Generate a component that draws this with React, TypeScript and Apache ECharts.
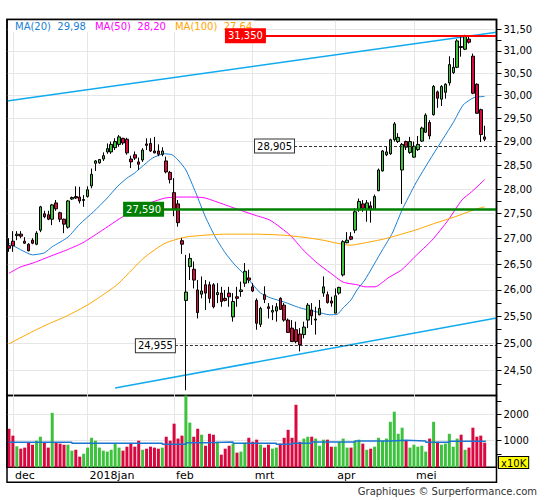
import React, { useEffect, useRef } from 'react';
import * as echarts from 'echarts';

// ---- trading days (categories) ----
const DAYS_2017_11 = [30];
const DAYS_2017_12 = [1, 4, 5, 6, 7, 8, 11, 12, 13, 14, 15, 18, 19, 20, 21, 22, 27, 28, 29];
const DAYS_2018_01 = [2, 3, 4, 5, 8, 9, 10, 11, 12, 15, 16, 17, 18, 19, 22, 23, 24, 25, 26, 29, 30, 31];
const DAYS_2018_02 = [1, 2, 5, 6, 7, 8, 9, 12, 13, 14, 15, 16, 19, 20, 21, 22, 23, 26, 27, 28];
const DAYS_2018_03 = [1, 2, 5, 6, 7, 8, 9, 12, 13, 14, 15, 16, 19, 20, 21, 22, 23, 26, 27, 28, 29];
const DAYS_2018_04 = [3, 4, 5, 6, 9, 10, 11, 12, 13, 16, 17, 18, 19, 20, 23, 24, 25, 26, 27, 30];
const DAYS_2018_05 = [2, 3, 4, 7, 8, 9, 10, 11, 14, 15, 16, 17, 18, 21, 22, 23, 24, 25, 28];
const MONTH_NAMES = ['jan', 'feb', 'mrt', 'apr', 'mei', 'jun', 'jul', 'aug', 'sep', 'okt', 'nov', 'dec'];

// ---- daily OHLC ----
const OPEN = [26.86, 26.95, 27.06, 27.09, 26.95, 26.89, 26.97, 26.89, 27.17, 27.50, 27.48, 27.39, 27.72, 27.52, 27.39, 27.23, 27.80, 27.85, 27.84, 27.77, 27.85, 28.07, 28.54, 28.55, 28.63, 28.78, 28.78, 28.87, 28.94, 29.07, 29.05, 28.63, 28.72, 28.57, 28.61, 28.95, 28.96, 28.80, 28.80, 28.73, 28.59, 28.35, 27.93, 27.70, 26.96, 25.80, 26.45, 26.40, 26.00, 25.92, 26.10, 26.10, 26.10, 25.91, 25.94, 25.84, 25.94, 25.49, 25.87, 25.97, 26.13, 26.23, 26.06, 25.80, 25.35, 25.91, 25.68, 25.58, 25.60, 25.84, 25.71, 25.43, 25.28, 25.25, 25.17, 25.16, 25.43, 25.62, 25.43, 25.53, 25.94, 25.91, 25.79, 25.56, 25.94, 26.29, 26.92, 27.04, 27.17, 27.58, 27.70, 27.59, 27.66, 27.59, 27.97, 28.38, 28.72, 28.74, 29.04, 29.00, 28.40, 29.00, 28.77, 28.67, 28.83, 29.01, 29.20, 29.41, 29.58, 30.08, 29.92, 30.07, 30.28, 30.51, 30.63, 31.10, 31.04, 31.27, 30.88, 30.25, 29.69, 29.10];
const CLOSE = [26.81, 26.86, 27.09, 27.05, 26.91, 26.76, 26.91, 27.11, 27.64, 27.44, 27.39, 27.68, 27.60, 27.39, 27.29, 27.76, 27.83, 27.82, 27.76, 27.79, 27.99, 28.31, 28.59, 28.62, 28.70, 28.85, 28.94, 29.00, 29.10, 28.97, 28.76, 28.57, 28.65, 28.52, 28.82, 28.92, 28.80, 28.76, 28.73, 28.80, 28.36, 28.20, 27.59, 27.32, 26.89, 25.96, 26.61, 26.19, 25.57, 25.98, 25.94, 25.84, 25.68, 25.95, 25.78, 25.80, 25.87, 25.78, 25.84, 26.00, 26.36, 26.19, 25.98, 25.37, 25.65, 25.82, 25.65, 25.61, 25.68, 25.63, 25.43, 25.20, 25.03, 25.03, 24.97, 25.30, 25.71, 25.51, 25.45, 25.65, 26.06, 25.76, 25.75, 25.89, 26.05, 26.94, 26.97, 26.99, 27.54, 27.75, 27.61, 27.72, 27.58, 27.85, 28.40, 28.80, 28.78, 29.04, 29.38, 29.09, 28.94, 28.88, 29.00, 28.90, 28.94, 29.29, 29.57, 29.12, 30.20, 29.94, 30.20, 30.25, 30.69, 30.63, 31.23, 31.08, 31.33, 31.20, 30.05, 29.61, 29.15, 29.05];
const LOW = [26.74, 26.74, 26.97, 27.01, 26.90, 26.75, 26.89, 26.87, 27.13, 27.41, 27.37, 27.27, 27.56, 27.33, 27.11, 27.20, 27.78, 27.80, 27.71, 27.64, 27.83, 28.02, 28.38, 28.53, 28.59, 28.74, 28.74, 28.82, 28.89, 28.93, 28.72, 28.44, 28.61, 28.40, 28.57, 28.82, 28.78, 28.75, 28.69, 28.69, 28.33, 28.12, 27.45, 27.24, 26.70, 24.15, 26.19, 26.03, 25.46, 25.84, 25.62, 25.75, 25.65, 25.75, 25.68, 25.78, 25.68, 25.40, 25.68, 25.87, 26.06, 26.13, 25.96, 25.25, 25.30, 25.75, 25.46, 25.43, 25.40, 25.62, 25.40, 25.19, 25.03, 25.00, 24.85, 25.09, 25.28, 25.34, 25.16, 25.52, 25.87, 25.74, 25.68, 25.56, 25.91, 26.26, 26.91, 26.97, 27.11, 27.54, 27.54, 27.34, 27.32, 27.58, 27.96, 28.37, 28.69, 28.72, 29.00, 28.97, 27.70, 28.82, 28.74, 28.66, 28.80, 28.99, 29.19, 29.05, 29.56, 29.73, 29.77, 29.93, 30.22, 30.48, 30.61, 30.87, 31.02, 31.17, 30.03, 29.60, 28.99, 29.01];
const HIGH = [27.01, 27.15, 27.15, 27.15, 27.03, 26.91, 27.01, 27.15, 27.66, 27.56, 27.56, 27.70, 27.78, 27.54, 27.40, 27.78, 27.85, 28.06, 28.05, 27.88, 28.06, 28.43, 28.61, 28.63, 28.77, 28.96, 29.00, 29.07, 29.14, 29.08, 29.08, 28.70, 28.79, 28.66, 28.86, 29.07, 29.07, 29.10, 28.94, 28.88, 28.68, 28.38, 28.23, 27.78, 27.01, 26.68, 26.71, 26.55, 26.19, 26.26, 26.19, 26.16, 26.13, 26.13, 26.06, 26.00, 26.06, 25.94, 26.06, 26.16, 26.52, 26.39, 26.13, 25.84, 25.68, 26.07, 25.75, 25.71, 25.75, 25.86, 25.75, 25.46, 25.43, 25.40, 25.28, 25.40, 25.75, 25.75, 25.68, 25.81, 26.26, 25.97, 25.87, 26.03, 26.06, 26.97, 27.13, 27.13, 27.61, 27.81, 27.78, 27.78, 27.75, 27.89, 28.43, 28.82, 28.90, 29.06, 29.42, 29.18, 28.97, 29.02, 29.10, 29.00, 29.12, 29.32, 29.61, 29.46, 30.23, 30.11, 30.23, 30.27, 30.88, 30.84, 31.27, 31.33, 31.37, 31.33, 30.94, 30.27, 29.71, 29.34];

// ---- volume (x10K) ----
const VOLUME = [1450, 1190, 790, 700, 740, 940, 850, 1000, 1150, 940, 740, 2050, 940, 890, 850, 850, 625, 660, 400, 510, 740, 1110, 1000, 740, 625, 590, 660, 890, 740, 625, 775, 890, 775, 1000, 660, 700, 775, 740, 700, 740, 1150, 1000, 1640, 1080, 1190, 2700, 1680, 1150, 1450, 1225, 810, 1260, 1225, 960, 475, 700, 810, 890, 550, 590, 925, 1110, 960, 1040, 850, 740, 850, 700, 740, 890, 1110, 1410, 1110, 2350, 960, 1080, 1150, 1150, 1080, 810, 1040, 1040, 775, 775, 960, 1080, 740, 740, 1000, 1040, 890, 660, 700, 775, 1110, 1000, 1080, 1710, 2090, 1260, 1490, 1000, 740, 850, 775, 810, 590, 1080, 1710, 960, 850, 890, 1260, 775, 1080, 1225, 660, 740, 1490, 1150, 1190, 925];
const VOLUME_MA = [[0, 940], [16, 900], [39, 865], [45, 925], [50, 950], [57, 900], [68, 865], [72, 900], [77, 950], [88, 990], [97, 1015], [101, 990], [106, 940], [112, 975], [121.3, 975]];

// ---- moving averages [day index, price] ----
const MA20 = [[0, 26.91], [3, 26.78], [6, 26.68], [9, 26.72], [11, 26.84], [15, 27.03], [18, 27.29], [21.5, 27.54], [25, 27.82], [27.5, 28.05], [30, 28.23], [32, 28.34], [36.5, 28.65], [39.5, 28.74], [41.5, 28.72], [43, 28.61], [45, 28.40], [47.5, 27.93], [50, 27.43], [52.5, 27.03], [55, 26.72], [57.5, 26.48], [60, 26.29], [62.5, 26.06], [64, 25.94], [66.5, 25.85], [70, 25.77], [74, 25.66], [78.5, 25.58], [81.5, 25.53], [83.5, 25.54], [85, 25.66], [87, 25.81], [88.5, 26.00], [90.5, 26.19], [95, 26.78], [97.5, 27.11], [100, 27.58], [103.5, 28.13], [107, 28.61], [113, 29.41], [115.5, 29.79], [117.5, 29.92], [118.5, 29.96], [121, 29.98]];
const MA50 = [[0, 26.32], [2.8, 26.44], [6.1, 26.52], [10.4, 26.65], [14.8, 26.78], [18.8, 26.92], [23.2, 27.14], [29.5, 27.47], [34.6, 27.68], [39.7, 27.82], [43.5, 27.84], [47.3, 27.84], [49.9, 27.82], [55, 27.68], [60, 27.54], [62.6, 27.47], [66.4, 27.37], [71.5, 27.07], [74.8, 26.78], [78.4, 26.52], [81.7, 26.33], [85, 26.15], [88.5, 26.10], [90.6, 26.06], [93.1, 26.06], [96.4, 26.23], [99.9, 26.39], [103.3, 26.65], [107.6, 26.97], [111.7, 27.37], [115.2, 27.78], [117.7, 27.95], [121, 28.20]];
const MA100 = [[0, 24.99], [6.1, 25.22], [10.4, 25.37], [14.8, 25.51], [20.1, 25.72], [23.2, 25.87], [27.5, 26.10], [29.5, 26.25], [34.6, 26.64], [39.7, 26.91], [44.8, 27.03], [49.9, 27.07], [55, 27.09], [62.6, 27.09], [69.7, 27.07], [74.8, 27.03], [79.9, 26.97], [83.5, 26.91], [86.8, 26.87], [90.1, 26.91], [95.7, 27.00], [103.3, 27.17], [108.4, 27.31], [113.5, 27.44], [118.6, 27.59], [121, 27.64]];

// ---- trend channel lines ----
const TREND_UPPER = [[-0.5, 29.88], [124, 31.43]];
const TREND_LOWER = [[27, 24.19], [124, 25.47]];

// ---- horizontal levels ----
const LEVEL_VALUES = [31.35, 28.905, 27.59, 24.955];
const LEVEL_START = [65.1, 72.5, 39.2, 42.2];

// ---- axis ticks ----
const PRICE_LABELS = [24.5, 25, 25.5, 26, 26.5, 27, 27.5, 28, 28.5, 29, 29.5, 30, 30.5, 31, 31.5];
const PRICE_MINOR = [24.25, 24.5, 24.75, 25, 25.25, 25.5, 25.75, 26, 26.25, 26.5, 26.75, 27, 27.25, 27.5, 27.75, 28, 28.25, 28.5, 28.75, 29, 29.25, 29.5, 29.75, 30, 30.25, 30.5, 30.75, 31, 31.25, 31.5];
const VOL_LABELS = [1000, 2000];
const VOL_MINOR = [500, 1000, 1500, 2000, 2500];
const PRICE_MIN = 24.057;
const PRICE_MAX = 31.726;
const VOL_MAX = 2700;
const X_MIN = -0.5;
const X_MAX = 124;

const UP = '#3cc23c';
const DOWN = '#d9083f';
const C_MA20 = '#1a7fd4';
const C_MA50 = '#ff00ff';
const C_MA100 = '#ffa500';
const C_TREND = '#11aaee';
const GRID_C = '#e6e6e6';
const FONT = 'DejaVu Sans';

function buildDates() {
  const parts: [number, number, number[]][] = [
    [2017, 11, DAYS_2017_11], [2017, 12, DAYS_2017_12], [2018, 1, DAYS_2018_01],
    [2018, 2, DAYS_2018_02], [2018, 3, DAYS_2018_03], [2018, 4, DAYS_2018_04], [2018, 5, DAYS_2018_05],
  ];
  const out: { y: number; m: number; d: number }[] = [];
  parts.forEach(([y, m, days]) => days.forEach((d) => out.push({ y, m, d })));
  return out;
}

const comma = (v: number, d: number) => v.toFixed(d).replace('.', ',');

export default function App() {
  const ref = useRef<HTMLDivElement>(null);
  useEffect(() => {
    if (!ref.current) return;
    const chart = echarts.init(ref.current, null, { renderer: 'svg' });
    const ln = Math.log;
    const dates = buildDates();
    const monthIdx: number[] = [];
    const monthLbl: Record<number, string> = {};
    dates.forEach((dt, i) => {
      if (i > 0 && dt.m !== dates[i - 1].m) {
        monthIdx.push(i);
        monthLbl[i] = (dt.m === 1 ? String(dt.y) : '') + MONTH_NAMES[dt.m - 1];
      }
    });

    const candleData = OPEN.map((o, i) => [i, ln(o), ln(CLOSE[i]), ln(LOW[i]), ln(HIGH[i])]);
    const volData = VOLUME.map((v, i) => ({ value: [i, v], itemStyle: { color: CLOSE[i] >= OPEN[i] ? UP : DOWN } }));
    const toLn = (arr: number[][]) => arr.map(([i, p]) => [i, ln(p)]);

    const levelStyles = [
      { line: { color: '#ff0000', width: 2, type: 'solid' }, label: { color: '#fff', backgroundColor: '#ff0000', borderColor: '#ff0000' } },
      { line: { color: '#333', width: 1, type: [3, 2] }, label: { color: '#000', backgroundColor: '#fff', borderColor: '#333' } },
      { line: { color: '#008000', width: 2.5, type: 'solid' }, label: { color: '#fff', backgroundColor: '#008000', borderColor: '#008000' } },
      { line: { color: '#333', width: 1, type: [3, 2] }, label: { color: '#000', backgroundColor: '#fff', borderColor: '#333' } },
    ];
    const markData = LEVEL_VALUES.map((v, k) => [
      {
        coord: [LEVEL_START[k], ln(v)],
        lineStyle: levelStyles[k].line,
        label: {
          show: true, position: 'start', distance: 0, formatter: comma(v, 3),
          fontSize: 10, fontFamily: FONT, padding: [2, 2, 1, 2], borderWidth: 1,
          ...levelStyles[k].label,
        },
      },
      { coord: [X_MAX, ln(v)] },
    ]);

    const maSeries = [
      { name: 'MA(20)', data: MA20, color: C_MA20 },
      { name: 'MA(50)', data: MA50, color: C_MA50 },
      { name: 'MA(100)', data: MA100, color: C_MA100 },
    ];
    const lastVal: Record<string, number> = {};
    maSeries.forEach((m) => { lastVal[m.name] = m.data[m.data.length - 1][1]; });

    const option: any = {
      animation: false,
      backgroundColor: '#ffffff',
      textStyle: { fontFamily: FONT },
      legend: {
        left: 8, top: 20, icon: 'rect', itemWidth: 0, itemHeight: 0, itemGap: 4,
        selectedMode: false, padding: [1, 2], backgroundColor: '#ffffff',
        data: maSeries.map((m) => ({ name: m.name, textStyle: { color: m.color } })),
        formatter: (name: string) => `${name}  ${comma(lastVal[name], 2)}`,
        textStyle: { fontSize: 10, fontFamily: FONT },
      },
      grid: [
        { left: 7, right: 48.5, top: 19.5, height: 376, show: true, borderColor: '#000', borderWidth: 1.5 },
        { left: 7, right: 48.5, top: 395.5, height: 71.8, show: true, borderColor: '#000', borderWidth: 1.5 },
      ],
      xAxis: [
        {
          type: 'value', gridIndex: 0, min: X_MIN, max: X_MAX,
          axisLine: { show: false }, axisLabel: { show: false },
          axisTick: { show: false, customValues: monthIdx },
          splitLine: { show: true, lineStyle: { color: GRID_C, width: 1 } },
        },
        {
          type: 'value', gridIndex: 1, min: X_MIN, max: X_MAX,
          axisLine: { show: false },
          axisTick: { show: false, customValues: monthIdx },
          axisLabel: {
            customValues: monthIdx, formatter: (v: number) => monthLbl[Math.round(v)] || '',
            align: 'left', padding: [0, 0, 0, 2], margin: 3, fontSize: 11, color: '#000', fontFamily: FONT,
          },
          splitLine: { show: true, lineStyle: { color: GRID_C, width: 1 } },
        },
      ],
      yAxis: [
        {
          type: 'value', gridIndex: 0, position: 'right', min: ln(PRICE_MIN), max: ln(PRICE_MAX),
          axisLine: { show: false },
          axisTick: { show: false, customValues: PRICE_LABELS.map(ln) },
          axisLabel: {
            customValues: PRICE_LABELS.map(ln), formatter: (v: number) => comma(Math.exp(v), 2),
            margin: 7, fontSize: 10, color: '#000', fontFamily: FONT,
          },
          splitLine: { show: true, lineStyle: { color: GRID_C, width: 1 } },
        },
        {
          type: 'value', gridIndex: 0, position: 'right', min: ln(PRICE_MIN), max: ln(PRICE_MAX),
          axisLine: { show: false }, axisLabel: { show: false }, splitLine: { show: false },
          axisTick: { show: true, length: 5, customValues: PRICE_MINOR.map(ln), lineStyle: { color: '#000' } },
        },
        {
          type: 'value', gridIndex: 1, position: 'right', min: 0, max: VOL_MAX,
          axisLine: { show: false },
          axisTick: { show: false, customValues: VOL_LABELS },
          axisLabel: {
            customValues: VOL_LABELS, formatter: (v: number) => String(Math.round(v)),
            margin: 7, fontSize: 10, color: '#000', fontFamily: FONT,
          },
          splitLine: { show: true, lineStyle: { color: GRID_C, width: 1 } },
        },
        {
          type: 'value', gridIndex: 1, position: 'right', min: 0, max: VOL_MAX,
          axisLine: { show: false }, axisLabel: { show: false }, splitLine: { show: false },
          axisTick: { show: true, length: 5, customValues: VOL_MINOR, lineStyle: { color: '#000' } },
        },
      ],
      series: [
        {
          type: 'line', name: 'trend-up', xAxisIndex: 0, yAxisIndex: 0, data: toLn(TREND_UPPER),
          symbol: 'none', silent: true, lineStyle: { color: C_TREND, width: 1.5 }, z: 1,
        },
        {
          type: 'line', name: 'trend-low', xAxisIndex: 0, yAxisIndex: 0, data: toLn(TREND_LOWER),
          symbol: 'none', silent: true, lineStyle: { color: C_TREND, width: 1.5 }, z: 1,
        },
        ...maSeries.map((m) => ({
          type: 'line', name: m.name, xAxisIndex: 0, yAxisIndex: 0, data: toLn(m.data),
          symbol: 'none', smooth: 0.2, silent: true, color: m.color, lineStyle: { color: m.color, width: 1 }, z: 2,
        })),
        {
          type: 'candlestick', name: 'koers', xAxisIndex: 0, yAxisIndex: 0, data: candleData,
          encode: { x: 0, y: [1, 2, 3, 4] }, barWidth: 3, z: 3,
          itemStyle: { color: UP, color0: DOWN, borderColor: '#000', borderColor0: '#000', borderWidth: 1 },
          markLine: { symbol: ['none', 'none'], silent: true, animation: false, data: markData, z: 4 },
        },
        {
          type: 'bar', name: 'volume', xAxisIndex: 1, yAxisIndex: 2, data: volData, barWidth: 3,
        },
        {
          type: 'line', name: 'volume-ma', xAxisIndex: 1, yAxisIndex: 2, data: VOLUME_MA, step: 'end',
          symbol: 'none', silent: true, lineStyle: { color: '#1a75cf', width: 1.5 }, z: 3,
        },
      ],
      graphic: [
        {
          type: 'rect', z: 100, silent: true,
          shape: { x: 7, y: 19.5, width: 489.5, height: 462.8 },
          style: { fill: 'none', stroke: '#000', lineWidth: 1.5 },
        },
        {
          type: 'text', z: 100, x: 499, y: 457,
          style: {
            text: 'x10K', fill: '#000', font: `10px '${FONT}'`, backgroundColor: '#ffff00',
            borderColor: '#000', borderWidth: 1, padding: [1, 2, 0, 2],
          },
        },
        {
          type: 'text', z: 100, x: 537, y: 491,
          style: { text: 'Graphiques © Surperformance.com', fill: '#333', font: `10px '${FONT}'`, textAlign: 'right', textVerticalAlign: 'middle' },
        },
      ],
    };
    chart.setOption(option);
    return () => chart.dispose();
  }, []);
  return <div ref={ref} style={{ position: 'fixed', left: 0, top: 0, width: 545, height: 500, background: '#fff' }} />;
}
